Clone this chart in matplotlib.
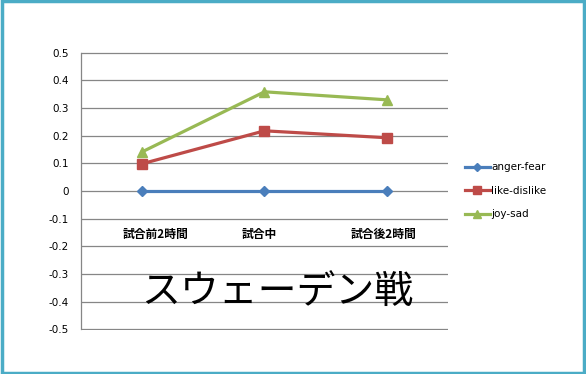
import matplotlib
matplotlib.use("Agg")
import matplotlib.pyplot as plt
from matplotlib.patches import Rectangle

categories = ["試合前2時間", "試合中", "試合後2時間"]
anger_fear = [0.0, 0.0, 0.0]
like_dislike = [0.098, 0.217, 0.192]
joy_sad = [0.141, 0.358, 0.329]
series_names = ["anger-fear", "like-dislike", "joy-sad"]
yticks = [0.5, 0.4, 0.3, 0.2, 0.1, 0, -0.1, -0.2, -0.3, -0.4, -0.5]
ytick_labels = ["0.5", "0.4", "0.3", "0.2", "0.1", "0", "-0.1", "-0.2", "-0.3", "-0.4", "-0.5"]
title = "スウェーデン戦"

plt.rcParams['font.family'] = ['DejaVu Sans']
fig = plt.figure(figsize=(5.86, 3.74), dpi=100)
fig.patch.set_facecolor("white")

# teal frame
fig.patches.append(Rectangle((0.003, 0.004), 0.994, 0.992, transform=fig.transFigure,
                             fill=False, edgecolor="#4BACC6", linewidth=2.5))

ax = fig.add_axes([0.1382, 0.1176, 0.6263, 0.7442])
x = list(range(len(categories)))

ax.plot(x, anger_fear, color="#4A7EBB", lw=2.3, marker="D", ms=5, label=series_names[0])
ax.plot(x, like_dislike, color="#BE4B48", lw=2.3, marker="s", ms=7, label=series_names[1])
ax.plot(x, joy_sad, color="#98B954", lw=2.3, marker="^", ms=7.5, label=series_names[2])

ax.set_xlim(-0.5, len(categories) - 0.5)
ax.set_ylim(-0.503, 0.503)
ax.set_yticks(yticks)
ax.set_yticklabels(ytick_labels, fontsize=7.5)
ax.set_xticks([])
ax.tick_params(axis="y", length=0, pad=9)
ax.yaxis.grid(True, color="#868686", lw=0.9)
ax.set_axisbelow(True)
for s in ["top", "right", "bottom"]:
    ax.spines[s].set_visible(False)
ax.spines["left"].set_color("#868686")
ax.spines["left"].set_linewidth(0.9)
ax.spines["left"].set_bounds(-0.5, 0.5)

offsets = [0.11, -0.04, -0.03]
for i, c in enumerate(categories):
    ax.text(i + offsets[i], -0.158, c, ha="center", va="center", fontsize=8.5,
            fontweight="bold", family=["Noto Sans CJK JP", "DejaVu Sans"])

ax.text(1.1, -0.365, title, ha="center", va="center", fontsize=28,
        family=["Noto Sans CJK JP", "DejaVu Sans"])

leg = ax.legend(loc="center left", bbox_to_anchor=(1.02, 0.5), frameon=False,
                fontsize=7.5, handlelength=2.4, labelspacing=1.3, handletextpad=0.15,
                markerscale=0.75)

fig.savefig("out.png", dpi=100)
